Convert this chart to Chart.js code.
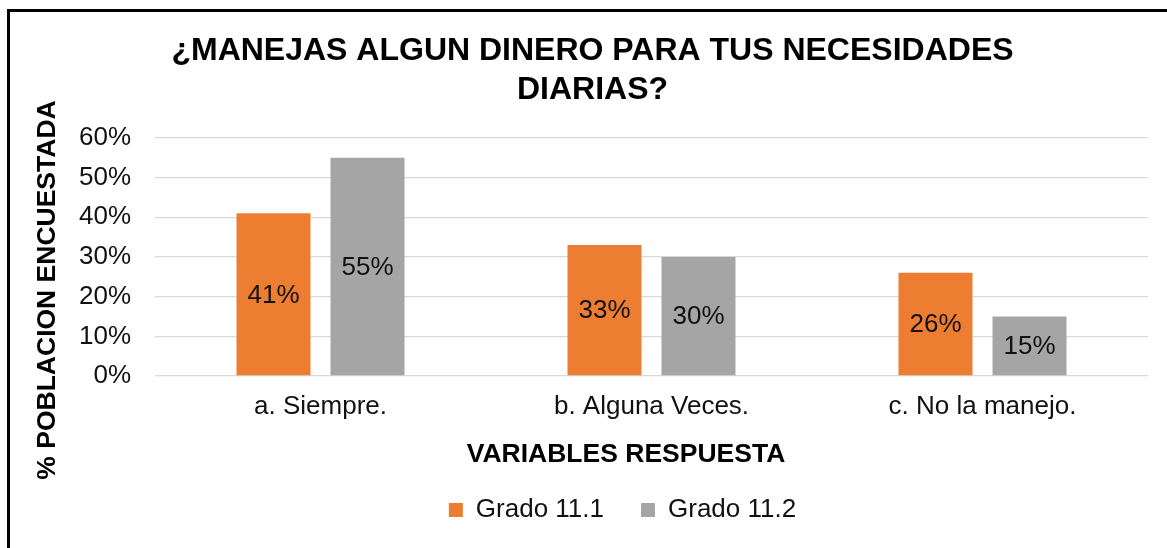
<!DOCTYPE html>
<html><head><meta charset="utf-8">
<script src="https://cdn.jsdelivr.net/npm/chart.js@4.4.1/dist/chart.umd.min.js"></script>
<style>
html,body{margin:0;padding:0;overflow:hidden;background:#fff;width:1167px;height:548px}
#wrap{position:absolute;left:0;top:0;width:1185px;height:548px}
</style>
</head><body><div id="wrap"><canvas id="c" width="1185" height="548"></canvas></div>
<script>
const categories = ['a. Siempre.', 'b. Alguna Veces.', 'c. No la manejo.'];
const grado111 = [41, 33, 26];
const grado112 = [55, 30, 15];
const seriesNames = ['Grado 11.1', 'Grado 11.2'];
const yTicks = [0, 10, 20, 30, 40, 50, 60];
const titleLines = ['¿MANEJAS ALGUN DINERO PARA TUS NECESIDADES', 'DIARIAS?'];
const xTitle = 'VARIABLES RESPUESTA';
const yTitle = '% POBLACION ENCUESTADA';

const FONT = "'Liberation Sans', Arial, sans-serif";

const framePlugin = {
  id: 'frame',
  beforeDraw(chart) {
    const ctx = chart.ctx;
    ctx.save();
    ctx.fillStyle = '#fff';
    ctx.fillRect(0, 0, chart.width, chart.height);
    ctx.fillStyle = '#000';
    ctx.fillRect(7, 9, 3, chart.height - 9);
    ctx.fillRect(7, 9, chart.width - 7, 3);
    ctx.restore();
  }
};

const barLabelPlugin = {
  id: 'barLabels',
  afterDatasetsDraw(chart) {
    const ctx = chart.ctx;
    ctx.save();
    ctx.font = '26px ' + FONT;
    ctx.fillStyle = '#111';
    ctx.textAlign = 'center';
    ctx.textBaseline = 'middle';
    chart.data.datasets.forEach((ds, di) => {
      const meta = chart.getDatasetMeta(di);
      meta.data.forEach((el, i) => {
        ctx.fillText(ds.data[i] + '%', el.x, (el.y + el.base) / 2 + 1);
      });
    });
    ctx.restore();
  }
};

const axisTitlePlugin = {
  id: 'axisTitles',
  afterDraw(chart) {
    const ctx = chart.ctx;
    ctx.save();
    ctx.fillStyle = '#000';
    ctx.font = 'bold 26.5px ' + FONT;
    ctx.textAlign = 'center';
    ctx.textBaseline = 'middle';
    ctx.fillText(xTitle, 626, 455);
    ctx.translate(48, 290);
    ctx.rotate(-Math.PI / 2);
    ctx.fillText(yTitle, 0, 0);
    ctx.restore();
  }
};

const legendShiftPlugin = {
  id: 'legendShift',
  afterLayout(chart) {
    if (chart.legend) {
      chart.legend.left += 30;
      chart.legend.right += 30;
    }
  }
};

new Chart(document.getElementById('c'), {
  type: 'bar',
  data: {
    labels: categories,
    datasets: [
      { label: seriesNames[0], data: grado111, backgroundColor: '#ED7D31', categoryPercentage: 0.568, barPercentage: 0.787 },
      { label: seriesNames[1], data: grado112, backgroundColor: '#A5A5A5', categoryPercentage: 0.568, barPercentage: 0.787 }
    ]
  },
  options: {
    responsive: false,
    animation: false,
    devicePixelRatio: 1,
    layout: { padding: { left: 37, right: 37, top: 0, bottom: 15 } },
    plugins: {
      title: {
        display: true,
        text: titleLines,
        color: '#000',
        font: { family: FONT, size: 32, weight: 'bold', lineHeight: 1.22 },
        padding: { top: 31.5, bottom: 28.4 }
      },
      legend: {
        display: true,
        position: 'bottom',
        labels: {
          color: '#111',
          font: { family: FONT, size: 26 },
          boxWidth: 14,
          boxHeight: 14,
          padding: 37
        }
      },
      tooltip: { enabled: false }
    },
    scales: {
      x: {
        grid: { display: false },
        border: { display: false },
        ticks: { color: '#111', font: { family: FONT, size: 26 }, padding: 7, maxRotation: 0 },
        afterFit(scale) { scale.height = 84; }
      },
      y: {
        min: 0,
        max: 60,
        afterBuildTicks(scale) { scale.ticks = yTicks.map(v => ({ value: v })); },
        grid: { color: '#D9D9D9', lineWidth: 1.3, drawTicks: false },
        border: { display: false },
        ticks: { color: '#111', font: { family: FONT, size: 26 }, padding: 24, callback: v => v + '%' },
        afterFit(scale) { scale.width = 118; }
      }
    }
  },
  plugins: [framePlugin, barLabelPlugin, axisTitlePlugin, legendShiftPlugin]
});
</script>
</body></html>
